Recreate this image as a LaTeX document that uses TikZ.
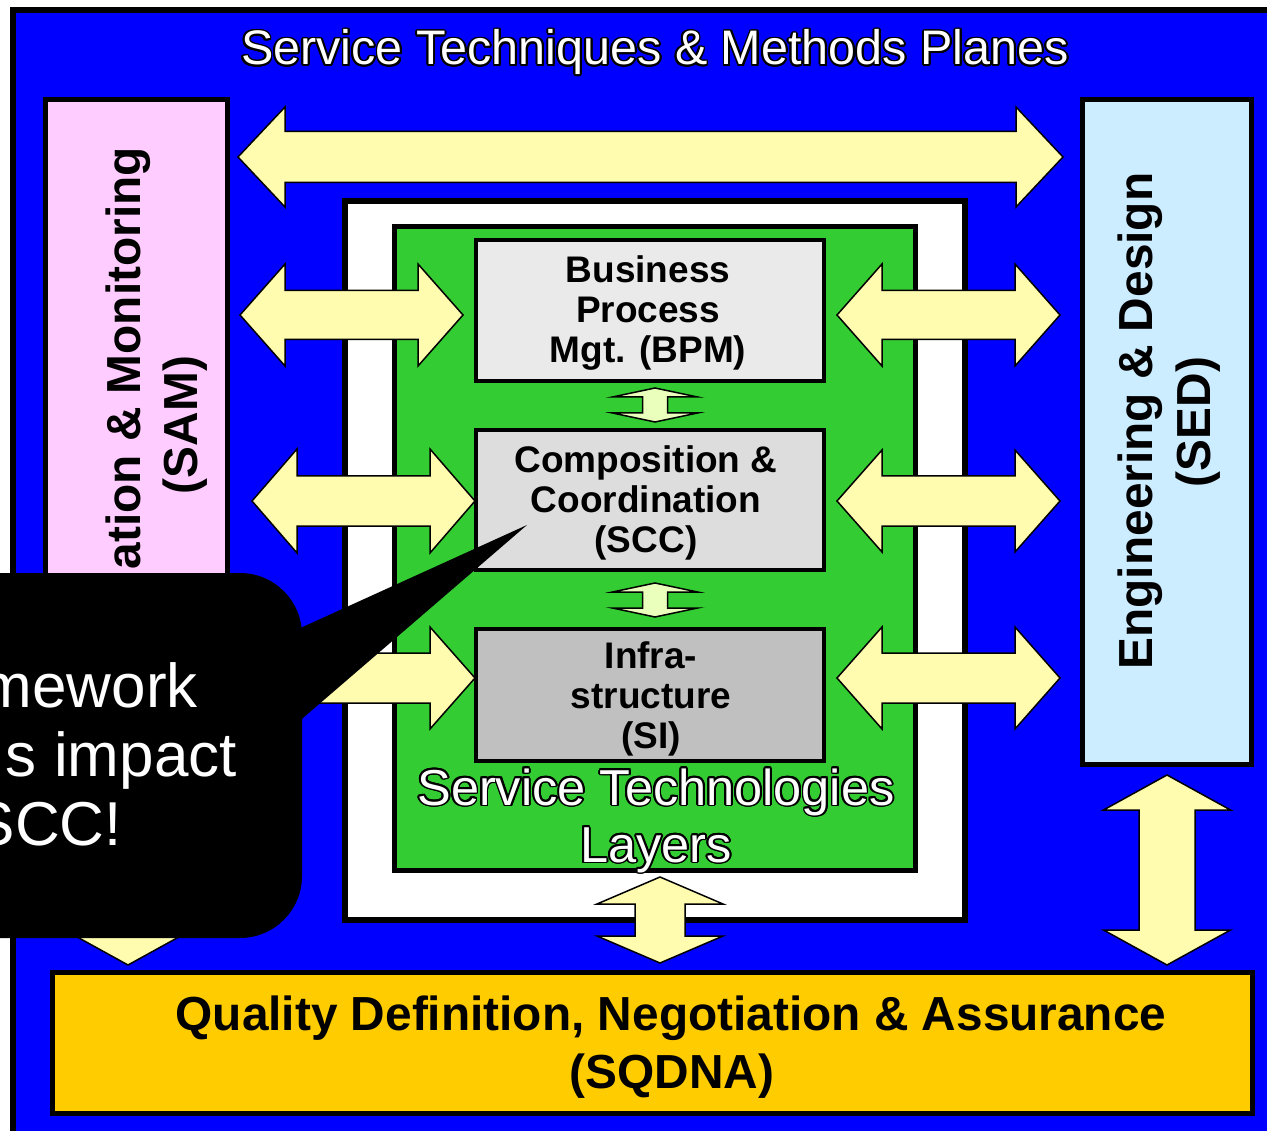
\documentclass[tikz,border=0pt]{standalone}
\usepackage{fontspec}
\setmainfont{Liberation Sans}
\usepackage[copies]{contour}
\contourlength{1.8pt}
\definecolor{bluebg}{RGB}{0,0,255}
\definecolor{pinkbox}{RGB}{255,204,255}
\definecolor{sedblue}{RGB}{204,236,255}
\definecolor{sqdnaorange}{RGB}{255,204,0}
\definecolor{greenlayer}{RGB}{51,204,51}
\definecolor{arrowyellow}{RGB}{255,251,175}
\definecolor{arrowgreen}{RGB}{235,255,188}
\definecolor{bpmgray}{RGB}{234,234,234}
\definecolor{sccgray}{RGB}{221,221,221}
\definecolor{sigray}{RGB}{192,192,192}
% horizontal double block arrow: x1 x2 yc headlen halfhead halfshaft style
\newcommand\hdarrow[7]{%
  \draw[#7] (#1,#3) -- (#1+#4,#3-#5) -- (#1+#4,#3-#6) -- (#2-#4,#3-#6) -- (#2-#4,#3-#5) -- (#2,#3)
   -- (#2-#4,#3+#5) -- (#2-#4,#3+#6) -- (#1+#4,#3+#6) -- (#1+#4,#3+#5) -- cycle;}
% vertical double block arrow: y1 y2 xc headlen halfhead halfshaft style
\newcommand\vdarrow[7]{%
  \draw[#7] (#3,#1) -- (#3+#5,#1+#4) -- (#3+#6,#1+#4) -- (#3+#6,#2-#4) -- (#3+#5,#2-#4) -- (#3,#2)
   -- (#3-#5,#2-#4) -- (#3-#6,#2-#4) -- (#3-#6,#1+#4) -- (#3-#5,#1+#4) -- cycle;}
\tikzset{
  panel/.style={draw=black, line width=5pt, inner sep=0pt, outer sep=0pt},
  layerbox/.style={draw=black, line width=4pt, inner sep=0pt, outer sep=0pt},
  blockarrow/.style={draw=black, line width=1.5pt, fill=arrowyellow, line join=miter},
  smallarrow/.style={draw=black, line width=1.5pt, fill=arrowgreen, line join=miter},
  boxtext/.style={font=\fontsize{37}{40}\selectfont\bfseries, align=center, inner sep=0pt},
  bigbold/.style={font=\fontsize{47.8}{58}\selectfont\bfseries, inner sep=0pt},
  outlined/.style={text=white, inner sep=0pt},
  callouttext/.style={font=\fontsize{62}{69}\selectfont, text=white, inner sep=0pt},
}
\begin{document}
\begin{tikzpicture}[x=1pt, y=-1pt]
\useasboundingbox (0,0) rectangle (1267,1131);
% outer blue plane
\draw[fill=bluebg, draw=black, line width=6pt] (13,10) rectangle (1300,1170);
\node[outlined, font=\fontsize{48.5}{57}\selectfont, anchor=base] (title) at (655,65) {\contour{black}{Service Techniques \& Methods Planes}};
% top wide arrow between SAM and SED
\hdarrow{238}{1063}{157}{47}{50}{25.5}{blockarrow}
% side planes
\node[panel, fill=pinkbox, minimum width=182pt, minimum height=665pt] (sam) at (136.5,432) {};
\node[panel, fill=sedblue, minimum width=169pt, minimum height=665pt] (sed) at (1167,432) {};
\node[panel, fill=sqdnaorange, minimum width=1200pt, minimum height=141pt] (sqdna) at (652.5,1043) {};
% white frame and green layers
\node[draw=black, line width=6pt, fill=white, minimum width=620pt, minimum height=719pt, inner sep=0pt] (frame) at (655,560.5) {};
\node[panel, fill=greenlayer, minimum width=521pt, minimum height=644pt] (green) at (655,548.5) {};
% layer boxes
\node[layerbox, fill=bpmgray, minimum width=348pt, minimum height=141pt] (bpm) at (650,310.5) {};
\node[layerbox, fill=sccgray, minimum width=348pt, minimum height=140pt] (scc) at (650,500) {};
\node[layerbox, fill=sigray, minimum width=348pt, minimum height=132pt] (si) at (650,695) {};
\node[boxtext] (bpmtext) at (648,313) {Business\\Process\\Mgt. (BPM)};
\node[boxtext] (scctext) at (646,503) {Composition \&\\Coordination\\(SCC)};
\node[boxtext] (sitext) at (651,699) {Infra-\\structure\\(SI)};
% small arrows between layers
\vdarrow{388}{422}{655}{9}{42.5}{12.5}{smallarrow}
\vdarrow{583}{617}{655}{9}{42.5}{12.5}{smallarrow}
% side arrows
\hdarrow{240}{463}{315}{45}{51}{24.5}{blockarrow}
\hdarrow{252}{475}{501}{45}{52}{25}{blockarrow}
\hdarrow{252}{475}{678}{45}{51}{25}{blockarrow}
\hdarrow{837}{1060}{315}{45}{51}{24.5}{blockarrow}
\hdarrow{837}{1060}{501}{45}{51}{25}{blockarrow}
\hdarrow{837}{1060}{678}{45}{51}{25}{blockarrow}
% arrows down to SQDNA
\vdarrow{877}{963}{660}{27}{63}{25}{blockarrow}
\vdarrow{775}{965}{1167}{35}{63.5}{28}{blockarrow}
\vdarrow{775}{965}{128}{35}{63.5}{28}{blockarrow}
% layer caption
\node[outlined, font=\fontsize{50.5}{57}\selectfont, anchor=base] (stl1) at (656,805) {\contour{black}{Service Technologies}};
\node[outlined, font=\fontsize{50.5}{57}\selectfont, anchor=base] (stl2) at (656,862) {\contour{black}{Layers}};
% plane texts
\node[bigbold, rotate=90, anchor=base east] (samtext1) at (140,147) {ation \& Monitoring};
\node[bigbold, rotate=90, anchor=base] (samtext2) at (197,425) {(SAM)};
\node[bigbold, rotate=90, anchor=base] (sedtext1) at (1152,421) {Engineering \& Design};
\node[bigbold, rotate=90, anchor=base] (sedtext2) at (1210,422) {(SED)};
\node[bigbold, anchor=base] (sqdnatext1) at (671,1030) {Quality Definition, Negotiation \& Assurance};
\node[bigbold, anchor=base] (sqdnatext2) at (672,1088) {(SQDNA)};
% callout
\fill[black, rounded corners=62pt] (-140,573) rectangle (302,938);
\fill[black] (296,630) -- (527,525) -- (296,724) -- cycle;
\node[callouttext, anchor=base east] (call1) at (198,707) {mework};
\node[callouttext, anchor=base east] (call2) at (237,776) {s impact};
\node[callouttext, anchor=base east] (call3) at (122,845) {SCC!};
\end{tikzpicture}
\end{document}
